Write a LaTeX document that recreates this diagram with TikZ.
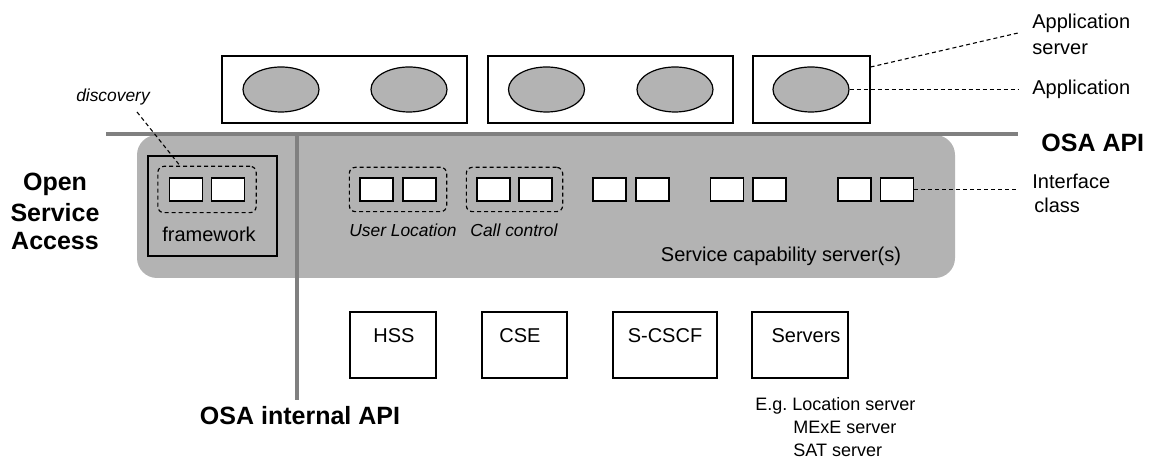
\documentclass[tikz,border=0pt]{standalone}
\usepackage{fontspec}
\setmainfont{Liberation Sans}
\usetikzlibrary{positioning,calc,fit,shapes.geometric}
\tikzset{>=stealth}
\definecolor{osagray}{RGB}{179,179,179}
\definecolor{apigray}{RGB}{128,128,128}
\tikzset{
  txt/.style={font=\fontsize{10}{12}\selectfont,inner sep=0pt},
  itxt/.style={font=\fontsize{8.7}{10}\selectfont\itshape,inner sep=0pt},
  btxt/.style={font=\fontsize{12.5}{15}\selectfont\bfseries,inner sep=0pt},
  stxt/.style={font=\fontsize{9}{11}\selectfont,inner sep=0pt},
  asbox/.style={draw,line width=0.6pt,minimum height=33.5pt,inner sep=0pt},
  app/.style={ellipse,draw,line width=0.6pt,fill=osagray,minimum width=38pt,minimum height=22.5pt,inner sep=0pt},
  ifbox/.style={draw,line width=0.65pt,fill=white,minimum width=16.5pt,minimum height=11.5pt,inner sep=0pt},
  group/.style={draw,line width=0.6pt,dash pattern=on 2pt off 1.5pt,rounded corners=3pt,inner sep=5pt},
  srvbox/.style={draw,line width=0.6pt,minimum height=33pt,inner sep=0pt},
  leader/.style={line width=0.55pt,dash pattern=on 2pt off 1.5pt},
  apiline/.style={apigray,line width=1.6pt}
}

\begin{document}
\begin{tikzpicture}[x=0.5pt,y=-0.5pt]
\useasboundingbox (0,0) rectangle (1152,458);
% Application servers with their applications
\node[asbox,minimum width=122.5pt] (as1) at (344.5,89.5) {};
\node[asbox,minimum width=122.5pt] (as2) at (610.5,89.5) {};
\node[asbox,minimum width=58.5pt] (as3) at (811.5,89.5) {};
\node[app] (app1) at (281,89.5) {};
\node[app] (app2) at (409,89.5) {};
\node[app] (app3) at (546.5,89.5) {};
\node[app] (app4) at (675,89.5) {};
\node[app] (app5) at (811,89.5) {};

% Service capability panel
\node[fill=osagray,rounded corners=10pt,minimum width=409pt,minimum height=71.5pt,inner sep=0pt] (panel) at (546,206.5) {};
\node[draw,line width=0.6pt,minimum width=64.5pt,minimum height=50pt,inner sep=0pt] (fwbox) at (212.5,206) {};

% OSA API and OSA internal API lines
\draw[apiline] (106,134) -- (1018,134);
\draw[apiline] (297,134) -- (297,400);

% Interface classes
\node[ifbox] (fw1) at (186,189.5) {};
\node[ifbox] (fw2) at (228,189.5) {};
\foreach \x [count=\i] in {376.5,419.5,493.5,535.5,609.5,652.5,727,769.5,854.5,897}
  \node[ifbox] (sc\i) at (\x,189.5) {};
\node[group,inner sep=5.5pt,fit=(fw1)(fw2)] (discgrp) {};
\node[group,fit=(sc1)(sc2)] (locgrp) {};
\node[group,fit=(sc3)(sc4)] (callgrp) {};

% Labels inside the panel
\node[txt,anchor=base] (fwlbl) at (209,242) {framework};
\node[itxt,anchor=base] (loclbl) at (403,237) {User Location};
\node[itxt,anchor=base] (calllbl) at (514,237) {Call control};
\node[txt,anchor=base] (scslbl) at (781,262) {Service capability server(s)};
\node[itxt,anchor=base] (disclbl) at (113,102) {discovery};

% Open Service Access
\node[btxt,anchor=base] (open1) at (55,191) {Open};
\node[btxt,anchor=base] (open2) at (55,222) {Service};
\node[btxt,anchor=base] (open3) at (55,250) {Access};
\node[btxt,anchor=base west] (osaapi) at (1041,152) {OSA API};
\node[btxt,anchor=base] (osaint) at (300,425) {OSA internal API};

% Network servers
\node[srvbox,minimum width=43pt] (hss) at (393,345) {};
\node[srvbox,minimum width=42.5pt] (cse) at (524.5,345) {};
\node[srvbox,minimum width=52pt] (scscf) at (665,345) {};
\node[srvbox,minimum width=48pt] (servers) at (800,345) {};
\node[txt,anchor=base] (hsslbl) at (394,343) {HSS};
\node[txt,anchor=base] (cselbl) at (520,343) {CSE};
\node[txt,anchor=base] (scscflbl) at (665,343) {S-CSCF};
\node[txt,anchor=base] (serverslbl) at (806,343) {Servers};
\node[stxt,anchor=base west] (eg1) at (755,411) {E.g.\ Location server};
\node[stxt,anchor=base west] (eg2) at (793,434) {MExE server};
\node[stxt,anchor=base west] (eg3) at (793,457) {SAT server};

% Legend on the right
\node[txt,anchor=base west] (aslbl1) at (1032,29) {Application};
\node[txt,anchor=base west] (aslbl2) at (1032,55) {server};
\node[txt,anchor=base west] (applbl) at (1032,95) {Application};
\node[txt,anchor=base west] (iflbl1) at (1032,189) {Interface};
\node[txt,anchor=base west] (iflbl2) at (1034,213) {class};
\coordinate (asend) at (1018,33);
\coordinate (append) at (1018,89.5);
\coordinate (ifend) at (1018,189.5);
\coordinate (discend) at (137,112);
\draw[leader] ([yshift=11.25pt]as3.east) -- (asend);
\draw[leader] (app5.east) -- (append);
\draw[leader] (sc10.east) -- (ifend);
\draw[leader] (discend) -- ([xshift=-13.5pt]discgrp.north);
\end{tikzpicture}
\end{document}
